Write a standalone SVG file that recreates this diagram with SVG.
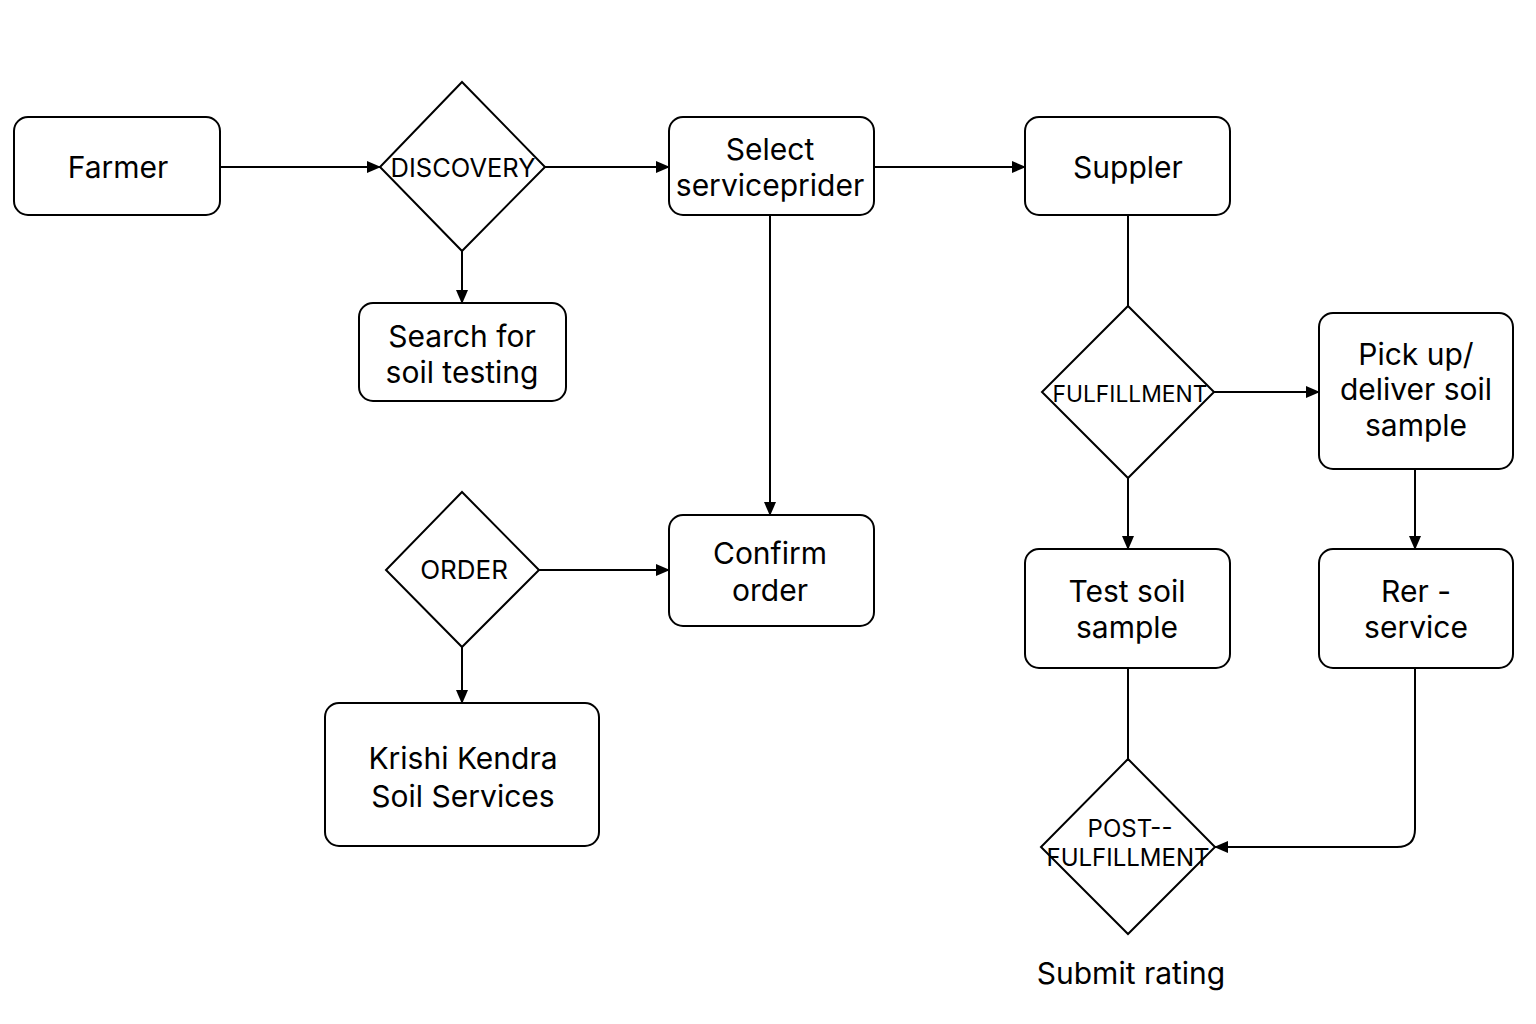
<svg xmlns="http://www.w3.org/2000/svg" width="1536" height="1024" viewBox="0 0 1536 1024">
<defs>
<marker id="ah" viewBox="0 0 14 12" refX="13" refY="6" markerWidth="14" markerHeight="12" markerUnits="userSpaceOnUse" orient="auto">
<path d="M0,0 L14,6 L0,12 Z" fill="#000"/>
</marker>
<style>
.box{fill:#fff;stroke:#000;stroke-width:2}
.dia{fill:#fff;stroke:#000;stroke-width:2}
.t{font-family:Inter,"Noto Sans","DejaVu Sans",sans-serif;font-size:30px;fill:#000;text-anchor:middle}
.d{font-family:Inter,"Noto Sans","DejaVu Sans",sans-serif;font-size:24px;fill:#000;text-anchor:middle}
.c{fill:none;stroke:#000;stroke-width:2}
.a{marker-end:url(#ah)}
</style>
</defs>
<rect width="1536" height="1024" fill="#fff"/>
<g id="connectors">
<path class="c a" d="M220,167 H380"/>
<path class="c a" d="M545,167 H669"/>
<path class="c a" d="M462,251 V303"/>
<path class="c a" d="M874,167 H1025"/>
<path class="c a" d="M770,215 V515"/>
<path class="c a" d="M539,570 H669"/>
<path class="c a" d="M462,647 V703"/>
<path class="c" d="M1128,215 V306"/>
<path class="c a" d="M1214,392 H1319"/>
<path class="c a" d="M1128,478 V549"/>
<path class="c a" d="M1415,469 V549"/>
<path class="c" d="M1128,668 V759"/>
<path class="c a" d="M1415,668 V829 Q1415,847 1397,847 H1215"/>
</g>
<g id="farmer"><rect class="box" x="14" y="117" width="206" height="98" rx="14"/><text class="t" x="118" y="178">Farmer</text></g>
<g id="discovery"><polygon class="dia" points="462,82 545,167 462,251 380,167"/><text class="d" x="463" y="177" style="font-size:25.5px">DISCOVERY</text></g>
<g id="select"><rect class="box" x="669" y="117" width="205" height="98" rx="14"/><text class="t" x="770" y="160">Select</text><text class="t" x="770" y="196">serviceprider</text></g>
<g id="suppler"><rect class="box" x="1025" y="117" width="205" height="98" rx="14"/><text class="t" x="1128" y="178">Suppler</text></g>
<g id="search"><rect class="box" x="359" y="303" width="207" height="98" rx="14"/><text class="t" x="462" y="347">Search for</text><text class="t" x="462" y="383">soil testing</text></g>
<g id="fulfillment"><polygon class="dia" points="1128,306 1214,392 1128,478 1042,392"/><text class="d" x="1130" y="402" style="font-size:22.8px">FULFILLMENT</text></g>
<g id="pickup"><rect class="box" x="1319" y="313" width="194" height="156" rx="14"/><text class="t" x="1416" y="365">Pick up/</text><text class="t" x="1416" y="400">deliver soil</text><text class="t" x="1416" y="436">sample</text></g>
<g id="order"><polygon class="dia" points="462,492 539,570 462,647 386,570"/><text class="d" x="464" y="579" style="font-size:26px">ORDER</text></g>
<g id="confirm"><rect class="box" x="669" y="515" width="205" height="111" rx="14"/><text class="t" x="770" y="564">Confirm</text><text class="t" x="770" y="601">order</text></g>
<g id="krishi"><rect class="box" x="325" y="703" width="274" height="143" rx="14"/><text class="t" x="463" y="769">Krishi Kendra</text><text class="t" x="463" y="807">Soil Services</text></g>
<g id="test"><rect class="box" x="1025" y="549" width="205" height="119" rx="14"/><text class="t" x="1127" y="602">Test soil</text><text class="t" x="1127" y="638">sample</text></g>
<g id="rer"><rect class="box" x="1319" y="549" width="194" height="119" rx="14"/><text class="t" x="1416" y="602">Rer -</text><text class="t" x="1416" y="638">service</text></g>
<g id="post"><polygon class="dia" points="1128,759 1215,847 1128,934 1041,847"/><text class="d" x="1130" y="837">POST--</text><text class="d" x="1128" y="866">FULFILLMENT</text></g>
<g id="submit"><text class="t" x="1131" y="984">Submit rating</text></g>
</svg>
